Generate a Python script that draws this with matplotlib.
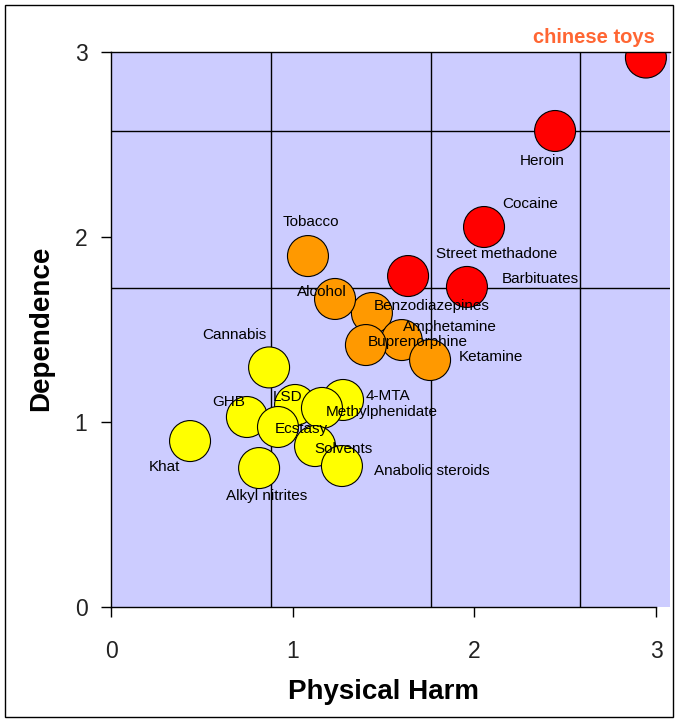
import matplotlib
matplotlib.use('Agg')
import matplotlib.pyplot as plt
from matplotlib.patches import Rectangle

plt.rcParams['font.family'] = ['Liberation Sans', 'DejaVu Sans']

# bubbles, in drawing order (later ones sit on top)
drugs = ['chinese toys', 'Heroin', 'Cocaine', 'Street methadone', 'Barbituates',
         'Tobacco', 'Benzodiazepines', 'Amphetamine', 'Ketamine', 'Alcohol',
         'Buprenorphine', 'Cannabis', 'LSD', 'GHB', '4-MTA', 'Methylphenidate',
         'Solvents', 'Ecstasy', 'Anabolic steroids', 'Khat', 'Alkyl nitrites']
physical_harm = [2.944, 2.444, 2.053, 1.635, 1.959,
                 1.084, 1.436, 1.600, 1.756, 1.233,
                 1.403, 0.870, 1.013, 0.748, 1.277, 1.161,
                 1.123, 0.919, 1.271, 0.435, 0.815]
dependence = [2.970, 2.573, 2.054, 1.789, 1.730,
              1.897, 1.589, 1.443, 1.335, 1.665,
              1.416, 1.295, 1.092, 1.027, 1.119, 1.076,
              0.870, 0.973, 0.762, 0.897, 0.751]
groups = ['high'] * 5 + ['mid'] * 6 + ['low'] * 10

# where each name sits, offset from its bubble in pixels (right, up)
label_dx = [-52, -13, 46, 89, 73, 3, 60, 48, 61, -13, 52, -35, -7, -18, 45, 60, 28, 23, 90, -26, 8]
label_dy = [20, -30, 23, 22, 8, 34, 7, 13, 3, 7, 3, 32, 8, 15, 4, -4, -3, -2, -5, -26, -28]

grid_x = [0.880, 1.763, 2.581]
grid_y = [1.723, 2.573]

colours = {'high': '#FF0000', 'mid': '#FF9900', 'low': '#FFFF00'}

fig = plt.figure(figsize=(6.8, 7.23), dpi=100)
ax = fig.add_axes([111/680, 1 - 607/723, 559/680, 555/723])
ax.set_facecolor('#CCCCFF')
ax.set_xlim(0, 559/181.7)
ax.set_ylim(0, 3)

for gx in grid_x:
    ax.axvline(gx, color='black', lw=1, zorder=1)
for gy in grid_y:
    ax.axhline(gy, color='black', lw=1, zorder=1)

ax.scatter(physical_harm, dependence, s=870,
           c=[colours[g] for g in groups], edgecolors='black', linewidths=0.8, zorder=2)

for name, x, y, dx, dy in zip(drugs, physical_harm, dependence, label_dx, label_dy):
    if name == 'chinese toys':
        ax.annotate(name, (x, y), xytext=(dx, dy), textcoords='offset pixels',
                    ha='center', va='center', fontsize=14.5, fontweight='bold',
                    color='#FF6633', zorder=5, annotation_clip=False)
    else:
        ax.annotate(name, (x, y), xytext=(dx, dy), textcoords='offset pixels',
                    ha='center', va='center', fontsize=11, color='black', zorder=5)

ax.spines['right'].set_visible(False)
for side in ['left', 'top', 'bottom']:
    ax.spines[side].set_color('black')
    ax.spines[side].set_linewidth(1)
ax.spines['bottom'].set_bounds(0, 3)

ax.set_xticks([0, 1, 2, 3])
ax.set_yticks([0, 1, 2, 3])
ax.tick_params(axis='x', direction='out', length=7, width=1, pad=17,
               labelsize=16.5, labelcolor='#222222')
ax.tick_params(axis='y', direction='out', length=7, width=1, pad=10,
               labelsize=16.5, labelcolor='#222222')

fig.text(384/680, 1 - 692/723, 'Physical Harm', ha='center', va='center',
         fontsize=20, fontweight='bold')
fig.text(41/680, 1 - 328/723, 'Dependence', ha='center', va='center',
         rotation=90, fontsize=20, fontweight='bold')

fig.patches.append(Rectangle((5/680, 1 - 717/723), 668/680, 712/723,
                             transform=fig.transFigure, fill=False,
                             edgecolor='black', lw=1))

fig.savefig('out.png', dpi=100)
